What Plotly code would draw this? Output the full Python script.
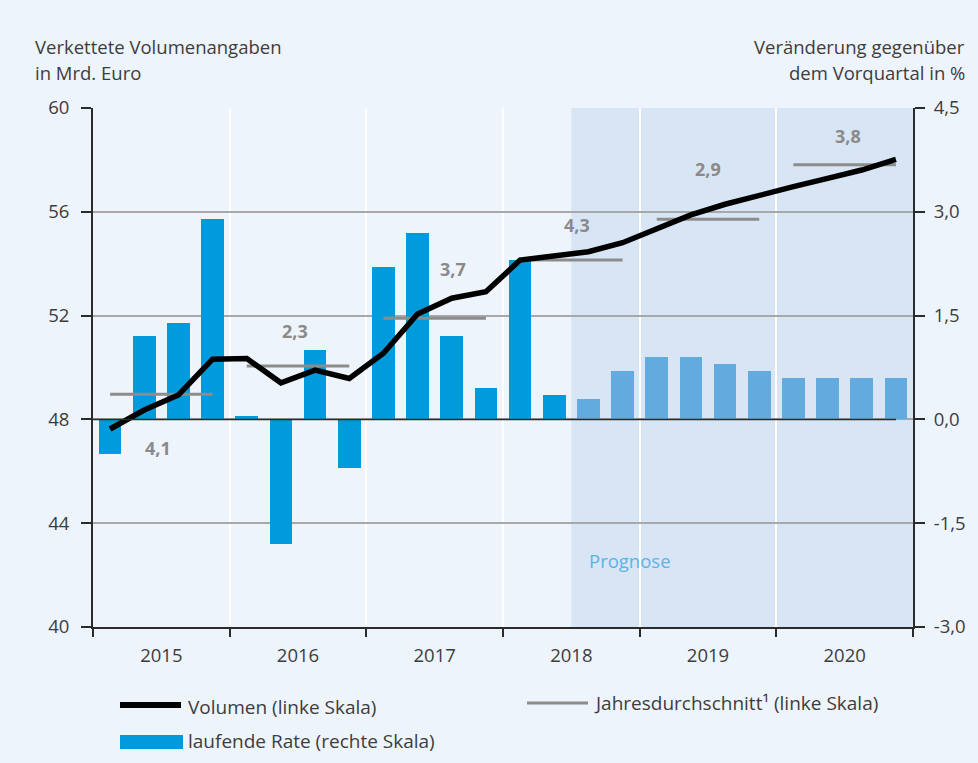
import plotly.graph_objects as go

# Quarters 2015 Q1 .. 2020 Q4
years = ["2015", "2016", "2017", "2018", "2019", "2020"]
quarters = [f"{y} Q{q}" for y in years for q in range(1, 5)]

# Chained volume, bn EUR (left scale)
volume = [47.63, 48.36, 48.94, 50.32,
          50.35, 49.41, 49.90, 49.58,
          50.55, 52.06, 52.67, 52.92,
          54.14, 54.31, 54.46, 54.81,
          55.36, 55.88, 56.29, 56.65,
          56.97, 57.29, 57.61, 58.02]

# Quarter-on-quarter change in % (right scale)
rate = [-0.5, 1.2, 1.4, 2.9,
        0.05, -1.8, 1.0, -0.7,
        2.2, 2.7, 1.2, 0.45,
        2.3, 0.35, 0.3, 0.7,
        0.9, 0.9, 0.8, 0.7,
        0.6, 0.6, 0.6, 0.6]

# Annual averages (left scale) and annual growth labels
annual_avg = [48.97, 50.06, 51.90, 54.14, 55.71, 57.81]
annual_growth = ["4,1", "2,3", "3,7", "4,3", "2,9", "3,8"]

forecast_start = 14  # first forecast quarter: 2018 Q3

left_ticks = [40, 44, 48, 52, 56, 60]
right_ticks = [-3.0, -1.5, 0.0, 1.5, 3.0, 4.5]
right_ticktext = ["-3,0", "-1,5", "0,0", "1,5", "3,0", "4,5"]

FONT = "Open Sans"
FS = 18.5
TXT = "#3d3d3d"
BAR_DARK = "#009bdc"
BAR_FC = "#63abdf"
BG = "#eef4fb"
SHADE = "#d8e5f4"
AVG_GREY = "#8c8c8c"

W, H = 978, 763
L, R, T, B = 93, 65, 108, 136
PW, PH = W - L - R, H - T - B


def px(xp):
    return (xp - L) / PW


def py(yp):
    return (H - B - yp) / PH


xs = list(range(len(quarters)))

fig = go.Figure()

fig.add_trace(go.Bar(
    x=xs, y=rate, yaxis="y", width=0.66,
    marker=dict(color=[BAR_DARK if i < forecast_start else BAR_FC for i in xs], line=dict(width=0)),
    name="laufende Rate (rechte Skala)", showlegend=False,
))

for k, avg in enumerate(annual_avg):
    fig.add_trace(go.Scatter(
        x=[4 * k, 4 * k + 3], y=[avg, avg], yaxis="y2", mode="lines",
        line=dict(color=AVG_GREY, width=3), showlegend=False, hoverinfo="skip",
    ))

fig.add_trace(go.Scatter(
    x=xs, y=volume, yaxis="y2", mode="lines",
    line=dict(color="black", width=5.5),
    name="Volumen (linke Skala)", showlegend=False,
))

# annual growth labels next to the average lines
label_offsets = [-2.06, 1.36, 1.90, 1.35, 1.94, 1.11]
label_x = [1.39, 5.41, 10.04, 13.66, 17.49, 21.60]
annotations = []
for k, txt in enumerate(annual_growth):
    annotations.append(dict(
        x=label_x[k], y=annual_avg[k] + label_offsets[k], xref="x", yref="y2",
        text=f"<b>{txt}</b>", showarrow=False,
        font=dict(family=FONT, size=18, color="#8a8a8a"),
    ))


def text_note(xp, yp, txt, anchor, size=FS, color=TXT):
    return dict(x=px(xp), y=py(yp), xref="paper", yref="paper", xanchor=anchor, yanchor="middle",
                text=txt, showarrow=False, font=dict(family=FONT, size=size, color=color))


annotations += [
    text_note(33, 46, "Verkettete Volumenangaben", "left"),
    text_note(33, 72, "in Mrd. Euro", "left"),
    text_note(967, 46, "Veränderung gegenüber", "right"),
    text_note(967, 72, "dem Vorquartal in %", "right"),
    text_note(630, 560, "Prognose", "center", size=18.5, color="#5db3e6"),
    # legend texts
    text_note(186, 707, "Volumen (linke Skala)", "left", size=19),
    text_note(592, 703, "Jahresdurchschnitt¹ (linke Skala)", "left", size=19),
    text_note(186, 741, "laufende Rate (rechte Skala)", "left", size=19),
]

shapes = [
    # forecast shading
    dict(type="rect", xref="x", yref="paper", x0=forecast_start - 0.5, x1=len(xs) - 0.5, y0=0, y1=1,
         fillcolor=SHADE, line=dict(width=0), layer="below"),
    # zero line of the rate scale
    dict(type="line", xref="x", yref="y", x0=-0.5, x1=len(xs) - 1, y0=0, y1=0,
         line=dict(color="#2b2b2b", width=1.5), layer="above"),
    # legend samples
    dict(type="line", xref="paper", yref="paper", x0=px(120), x1=px(181), y0=py(705), y1=py(705),
         line=dict(color="black", width=6)),
    dict(type="line", xref="paper", yref="paper", x0=px(527), x1=px(588), y0=py(703), y1=py(703),
         line=dict(color=AVG_GREY, width=3)),
    dict(type="rect", xref="paper", yref="paper", x0=px(120), x1=px(183), y0=py(749), y1=py(735),
         fillcolor=BAR_DARK, line=dict(width=0)),
]

fig.update_layout(
    width=W, height=H,
    margin=dict(l=L, r=R, t=T, b=B),
    paper_bgcolor=BG, plot_bgcolor=BG,
    font=dict(family=FONT, size=FS, color=TXT),
    showlegend=False,
    bargap=0,
    annotations=annotations,
    shapes=shapes,
    xaxis=dict(
        range=[-0.5, len(xs) - 0.5],
        tickvals=[4 * k + 1.5 for k in range(len(years))], ticktext=years,
        ticks="", showgrid=False, zeroline=False,
        showline=True, linecolor="#2b2b2b", linewidth=2,
        ticklabelstandoff=11,
        tickfont=dict(family=FONT, size=FS, color=TXT),
        minor=dict(tick0=-0.5, dtick=4, ticks="outside", ticklen=8, tickwidth=2,
                   tickcolor="#2b2b2b", showgrid=True, gridcolor="white", gridwidth=2),
    ),
    yaxis=dict(
        side="right", range=[-3, 4.5],
        tickvals=right_ticks, ticktext=right_ticktext,
        ticks="outside", ticklen=10, tickwidth=2, tickcolor="#2b2b2b",
        showline=True, linecolor="#2b2b2b", linewidth=2,
        showgrid=True, gridcolor="#a8a8a8", gridwidth=2, zeroline=False,
        ticklabelstandoff=5,
        tickfont=dict(family=FONT, size=FS, color=TXT),
    ),
    yaxis2=dict(
        overlaying="y", side="left", range=[40, 60],
        tickvals=left_ticks,
        ticks="outside", ticklen=10, tickwidth=2, tickcolor="#2b2b2b",
        showline=True, linecolor="#2b2b2b", linewidth=2,
        showgrid=False, zeroline=False,
        ticklabelstandoff=8,
        tickfont=dict(family=FONT, size=FS, color=TXT),
    ),
)

fig.write_html("out.html")
